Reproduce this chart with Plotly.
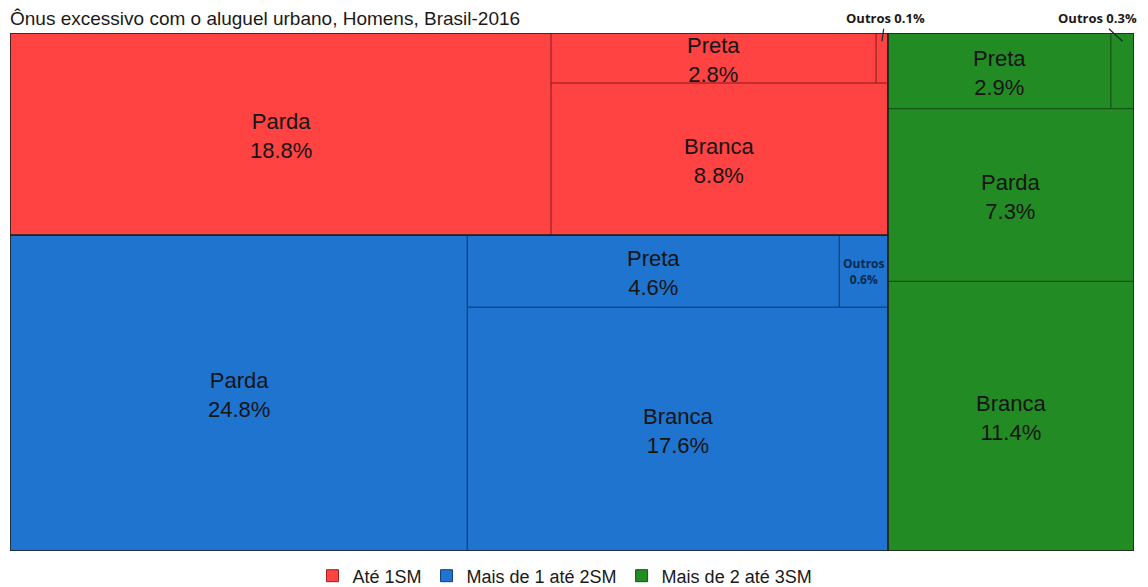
"""
    Treemap: onus excessivo com o aluguel urbano, Homens, Brasil-2016
"""

import plotly.graph_objs as go

# dados (% do total)
grupos = ["Até 1SM", "Mais de 1 até 2SM", "Mais de 2 até 3SM"]
parda = [18.8, 24.8, 7.3]
branca = [8.8, 17.6, 11.4]
preta = [2.8, 4.6, 2.9]
outros = [0.1, 0.6, 0.3]

cores = ["#FF4242", "#1F74CF", "#238B23"]
bordas = ["#9E2020", "#0E3F78", "#145214"]

# page body has an 8px margin, so the figure is a bit smaller than the window
FIG_W, FIG_H = 1140, 579
M_L, M_R, M_T, M_B = 2, 14, 25, 36
W_PX, H_PX = FIG_W - M_L - M_R, FIG_H - M_T - M_B


def layout_grupo(x0, y0, x1, y1, i, w_px, h_px):
    """
        Splits one group rectangle into its cells (y grows downwards)
    """
    tot = parda[i] + branca[i] + preta[i] + outros[i]
    cells = []
    if w_px > h_px:
        # Parda on a left column, the rest stacked on the right
        xp = x0 + (x1 - x0) * parda[i] / tot
        cells.append(("Parda", parda[i], x0, y0, xp, y1))
        x0 = xp
        rows = [("top", preta[i] + outros[i]), ("Branca", branca[i])]
    else:
        rows = [("top", preta[i] + outros[i]), ("Parda", parda[i]), ("Branca", branca[i])]
    rest = sum(v for _, v in rows)
    y = y0
    for name, v in rows:
        yn = y + (y1 - y0) * v / rest
        if name == "top":
            xs = x0 + (x1 - x0) * preta[i] / v
            cells.append(("Preta", preta[i], x0, y, xs, yn))
            cells.append(("Outros", outros[i], xs, y, x1, yn))
        else:
            cells.append((name, v, x0, y, x1, yn))
        y = yn
    return cells


totais = [parda[i] + branca[i] + preta[i] + outros[i] for i in range(3)]
total = sum(totais)

# top level: last group on a right column, the others stacked on the left
xg = 1 - totais[2] / total
ym = totais[0] / (totais[0] + totais[1])
grupo_rects = [(0, 0, xg, ym), (0, ym, xg, 1), (xg, 0, 1, 1)]

# pixel offsets of the small "Outros" labels (above the plot)
outros_ax = [3, 0, -25]

fig = go.Figure()
annotations = []
shapes = []

for i, g in enumerate(grupos):
    gx0, gy0, gx1, gy1 = grupo_rects[i]
    cells = layout_grupo(gx0, gy0, gx1, gy1, i,
                         (gx1 - gx0) * W_PX, (gy1 - gy0) * H_PX)
    xs, ws, bs, hs = [], [], [], []
    for name, v, cx0, cy0, cx1, cy1 in cells:
        xs.append((cx0 + cx1) / 2)
        ws.append(cx1 - cx0)
        bs.append(cy0)
        hs.append(cy1 - cy0)
        cx, cy = (cx0 + cx1) / 2, (cy0 + cy1) / 2
        if name != "Outros":
            annotations.append(dict(x=cx, y=cy, text=f"{name}<br>{v:.1f}%",
                                    showarrow=False, yshift=-2,
                                    font=dict(size=22, color="#151515",
                                              family="Liberation Sans, Arial")))
        elif (cx1 - cx0) * W_PX > 40:
            annotations.append(dict(x=cx, y=cy, text=f"<b>Outros<br>{v:.1f}%</b>",
                                    showarrow=False,
                                    font=dict(size=12, color="#0B2A50",
                                              family="Open Sans")))
        else:
            annotations.append(dict(x=cx, y=cy0 + 0.016, text=f"<b>Outros {v:.1f}%</b>",
                                    showarrow=True, arrowhead=0, arrowwidth=1.2,
                                    arrowcolor="#222",
                                    ax=outros_ax[i], ay=-23,
                                    font=dict(size=13, color="#1a1a1a",
                                              family="Open Sans")))
    fig.add_trace(go.Bar(x=xs, y=hs, base=bs, width=ws, name=g,
                         marker=dict(color=cores[i],
                                     line=dict(color=bordas[i], width=1)),
                         hoverinfo="skip"))
    shapes.append(dict(type="rect", xref="x", yref="y", x0=gx0, x1=gx1,
                       y0=gy0, y1=gy1, line=dict(color="#222", width=1.5)))

fig.update_layout(
    width=FIG_W, height=FIG_H,
    margin=dict(l=M_L, r=M_R, t=M_T, b=M_B),
    paper_bgcolor="white", plot_bgcolor="white",
    barmode="overlay",
    title=dict(text="Ônus excessivo com o aluguel urbano, Homens, Brasil-2016",
               x=2 / FIG_W, xanchor="left", xref="container",
               y=1 - 10 / FIG_H, yanchor="middle", yref="container",
               font=dict(size=19, color="#1a1a1a", family="Liberation Sans, Arial")),
    xaxis=dict(range=[0, 1], showgrid=False, zeroline=False,
               showticklabels=False, fixedrange=True),
    yaxis=dict(range=[1, 0], showgrid=False, zeroline=False,
               showticklabels=False, fixedrange=True),
    legend=dict(orientation="h", x=557 / FIG_W, xanchor="center", xref="container",
                y=1 - 568 / FIG_H, yanchor="middle", yref="container",
                font=dict(size=18, color="#1a1a1a", family="Liberation Sans, Arial"),
                traceorder="normal"),
    annotations=annotations,
    shapes=shapes,
)

fig.write_html("out.html")
